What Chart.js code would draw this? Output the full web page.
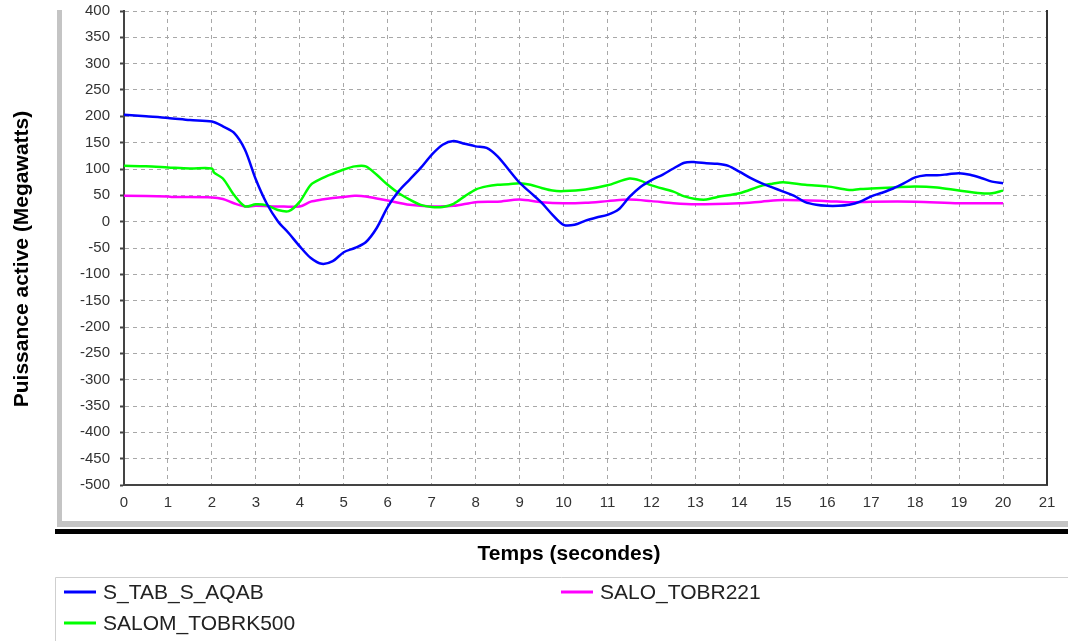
<!DOCTYPE html>
<html>
<head>
    <title>Puissance active</title>
    <script src="https://cdn.jsdelivr.net/npm/chart.js"></script>
    <style>
        body { margin: 0; background: #fff; }
    </style>
</head>
<body>
    <canvas id="powerChart" width="1068" height="641"></canvas>
    <script>
        // valeurs
        const seriesNames = ['S_TAB_S_AQAB', 'SALOM_TOBRK500', 'SALO_TOBR221'];
        const seriesColors = ['#0000ff', '#00ff00', '#ff00ff'];

        const tBlue = [0, 0.5, 1, 1.5, 2, 2.25, 2.5, 2.75, 3, 3.25, 3.5, 3.75, 4, 4.25, 4.5, 4.75, 5, 5.25, 5.5, 5.75,
            6, 6.25, 6.5, 6.75, 7, 7.25, 7.5, 7.75, 8, 8.25, 8.5, 8.75, 9, 9.25, 9.5, 9.75, 10, 10.25, 10.5, 10.75,
            11, 11.25, 11.5, 11.75, 12, 12.25, 12.5, 12.75, 13, 13.25, 13.5, 13.75, 14, 14.25, 14.5, 14.75,
            15, 15.25, 15.5, 15.75, 16, 16.25, 16.5, 16.75, 17, 17.25, 17.5, 17.75, 18, 18.25, 18.5, 18.75,
            19, 19.25, 19.5, 19.75, 20];
        const blue = [203, 200, 197, 193, 190, 181, 169, 137, 80, 34, 1, -22, -47, -69, -80, -75, -58, -50, -39, -12,
            28, 58, 80, 102, 127, 146, 153, 148, 143, 140, 124, 99, 74, 55, 36, 13, -6, -6, 2, 8,
            13, 23, 47, 66, 79, 89, 101, 112, 113, 111, 110, 106, 95, 83, 73, 65,
            57, 49, 37, 32, 30, 30, 32, 38, 48, 55, 63, 73, 84, 88, 88, 90,
            92, 89, 83, 76, 73];

        const tGreen = [0, 0.5, 1, 1.5, 2, 2.05, 2.25, 2.5, 2.75, 3, 3.25, 3.5, 3.75, 4, 4.25, 4.5, 4.75, 5, 5.25, 5.5,
            5.75, 6, 6.25, 6.5, 6.75, 7, 7.25, 7.5, 7.75, 8, 8.25, 8.5, 8.75, 9, 9.25, 9.5, 9.75, 10, 10.5, 11,
            11.5, 11.75, 12, 12.5, 12.75, 13, 13.25, 13.5, 14, 14.5, 14.75, 15, 15.5, 16, 16.5, 16.75, 17, 17.5,
            18, 18.5, 19, 19.5, 19.75, 20];
        const green = [106, 105, 103, 101, 101, 93, 82, 51, 29, 33, 31, 22, 20, 38, 70, 82, 91, 99, 105, 105,
            89, 70, 54, 42, 32, 28, 28, 34, 48, 61, 67, 70, 71, 73, 70, 64, 59, 58, 61, 69,
            82, 78, 69, 57, 48, 43, 42, 47, 54, 68, 72, 75, 70, 67, 60, 62, 63, 65,
            67, 65, 59, 54, 54, 59];

        const tPink = [0, 1, 1.1, 2, 2.25, 2.5, 2.75, 3, 3.5, 4, 4.25, 4.5, 4.75, 5, 5.25, 5.5, 5.75, 6, 6.5, 7,
            7.5, 8, 8.5, 9, 9.5, 10, 10.5, 11, 11.5, 12, 12.5, 13, 14, 14.5, 15, 16, 16.5, 17, 18, 19, 20];
        const pink = [49, 48, 47, 46, 43, 35, 29, 30, 29, 29, 38, 42, 45, 47, 49, 48, 44, 40, 32, 29,
            30, 37, 38, 42, 37, 35, 36, 39, 42, 39, 35, 33, 35, 38, 41, 39, 37, 38, 38, 35, 35];

        const yTicksMin = -500, yTicksMax = 400, yStep = 50;
        const xTicksMin = 0, xTicksMax = 21;

        const toPoints = (ts, vs) => ts.map((t, i) => ({ x: t, y: vs[i] }));

        const decor = {
            id: 'decor',
            beforeDraw(chart) {
                const c = chart.ctx;
                c.save();
                c.fillStyle = '#fff';
                c.fillRect(0, 0, chart.width, chart.height);
                // cadre du panneau
                c.fillStyle = '#c4c4c4';
                c.fillRect(57, 10, 5, 516);
                c.fillRect(57, 521, 1011, 6);
                c.fillStyle = '#000';
                c.fillRect(55, 529, 1013, 5);
                // cadre de la légende
                c.strokeStyle = '#cfcfcf';
                c.lineWidth = 1;
                c.beginPath();
                c.moveTo(55.5, 641);
                c.lineTo(55.5, 577.5);
                c.lineTo(1068, 577.5);
                c.stroke();
                c.restore();
            },
            afterDraw(chart) {
                const c = chart.ctx;
                const a = chart.chartArea;
                c.save();
                // bord droit
                c.strokeStyle = '#333';
                c.lineWidth = 2;
                c.beginPath();
                c.moveTo(a.right, a.top - 1);
                c.lineTo(a.right, a.bottom);
                c.stroke();
                // titres
                c.fillStyle = '#000';
                c.font = 'bold 21px "Liberation Sans", Arial, sans-serif';
                c.textAlign = 'center';
                c.textBaseline = 'middle';
                c.fillText('Temps (secondes)', 569, 554);
                c.translate(22, 259);
                c.rotate(-Math.PI / 2);
                c.fillText('Puissance active (Megawatts)', 0, 0);
                c.restore();
                // légende
                c.save();
                c.font = '21px "Liberation Sans", Arial, sans-serif';
                c.textBaseline = 'middle';
                c.textAlign = 'left';
                const spots = [[64, 592], [64, 623], [561, 592]];
                chart.data.datasets.forEach((ds, i) => {
                    const [lx, ly] = spots[i];
                    c.strokeStyle = ds.borderColor;
                    c.lineWidth = 3;
                    c.beginPath();
                    c.moveTo(lx, ly);
                    c.lineTo(lx + 32, ly);
                    c.stroke();
                    c.fillStyle = '#222';
                    c.fillText(ds.label, lx + 39, ly + 1);
                });
                c.restore();
            }
        };

        new Chart(document.getElementById('powerChart').getContext('2d'), {
            type: 'line',
            data: {
                datasets: [
                    { label: seriesNames[0], data: toPoints(tBlue, blue), borderColor: seriesColors[0] },
                    { label: seriesNames[1], data: toPoints(tGreen, green), borderColor: seriesColors[1] },
                    { label: seriesNames[2], data: toPoints(tPink, pink), borderColor: seriesColors[2] }
                ].map(ds => Object.assign(ds, { borderWidth: 2.5, pointRadius: 0, tension: 0.3, fill: false }))
            },
            options: {
                responsive: false,
                animation: false,
                layout: { padding: { left: 0, top: 11, right: 21, bottom: 0 } },
                plugins: { legend: { display: false }, tooltip: { enabled: false } },
                scales: {
                    x: {
                        type: 'linear',
                        min: xTicksMin,
                        max: xTicksMax,
                        afterFit: s => { s.height = 156; s.paddingLeft = 0; s.paddingRight = 0; },
                        ticks: { stepSize: 1, color: '#333', padding: 9, font: { family: '"Liberation Sans", Arial', size: 15 } },
                        grid: { color: '#a8a8a8', drawTicks: false },
                        border: { color: '#444', width: 2, dash: [4, 4] }
                    },
                    y: {
                        min: yTicksMin,
                        max: yTicksMax,
                        afterFit: s => { s.width = 124; s.paddingTop = 0; s.paddingBottom = 0; },
                        ticks: { stepSize: yStep, color: '#333', padding: 10, font: { family: '"Liberation Sans", Arial', size: 15 } },
                        grid: { color: '#a8a8a8', tickLength: 4, tickColor: '#444', tickWidth: 2 },
                        border: { color: '#444', width: 2, dash: [4, 4] }
                    }
                }
            },
            plugins: [decor]
        });
    </script>
</body>
</html>
